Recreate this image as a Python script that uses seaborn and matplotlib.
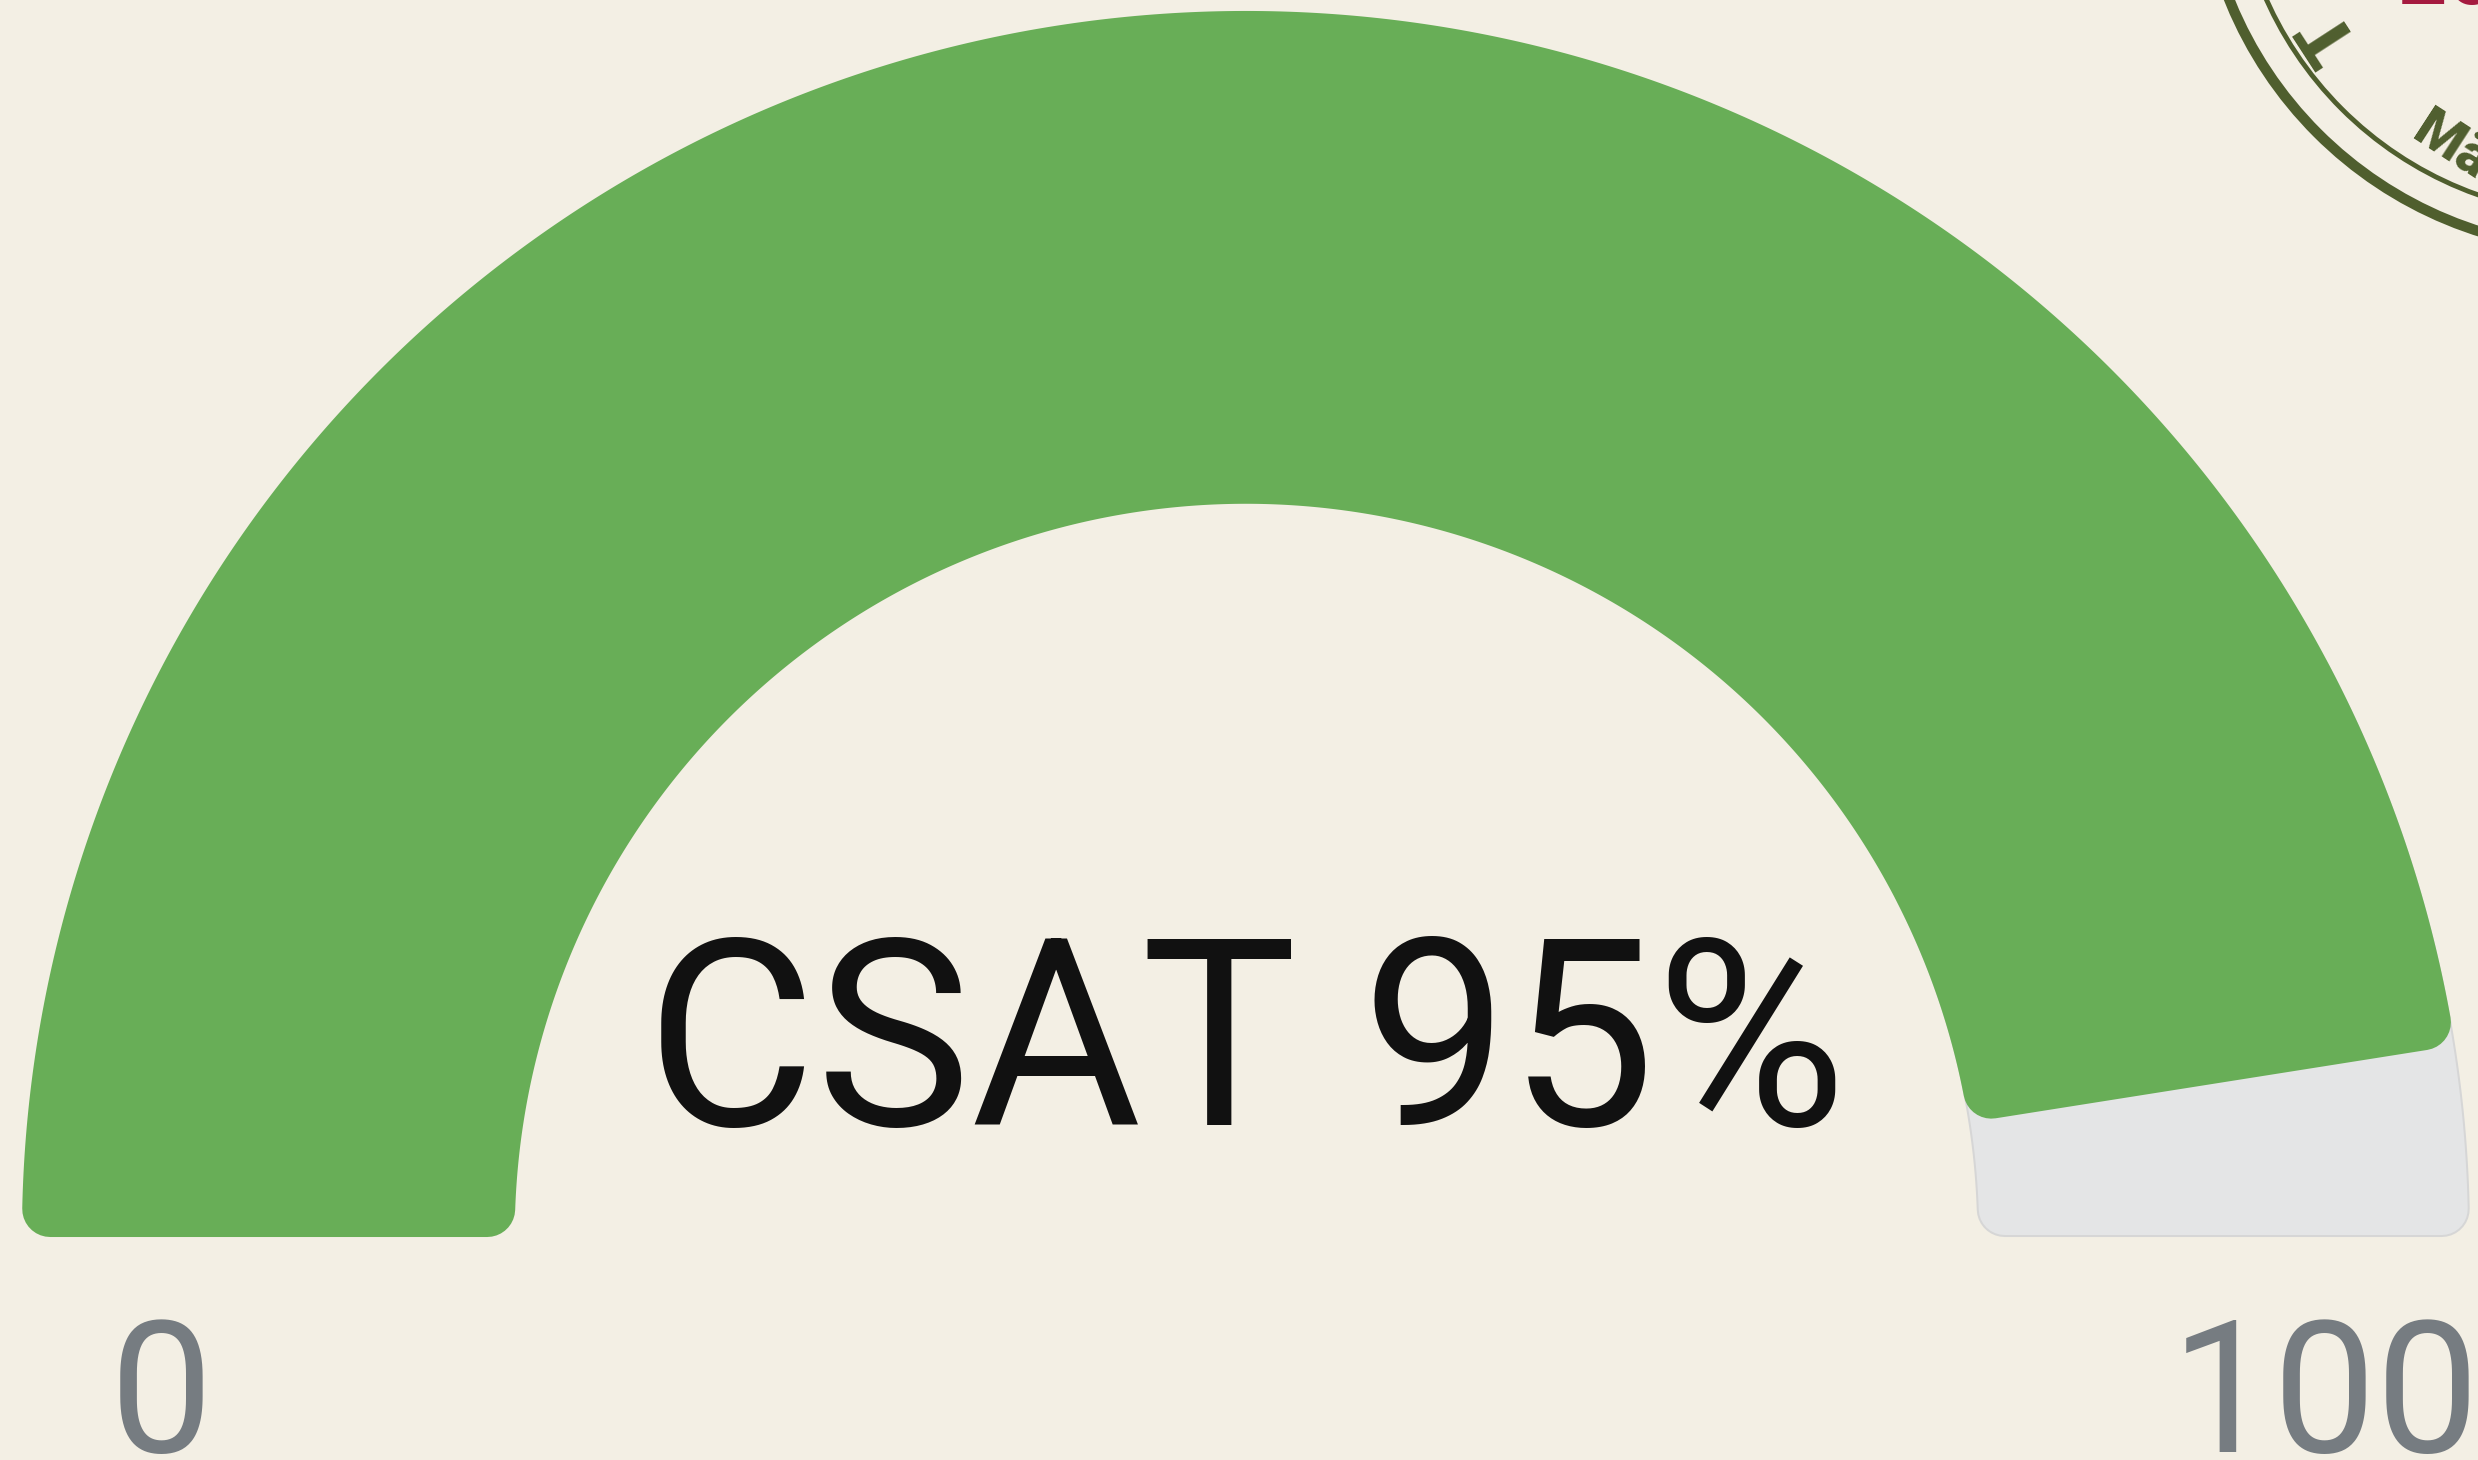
import numpy as np
import seaborn as sns
import matplotlib.pyplot as plt
from matplotlib.patches import Polygon, Circle

# gauge data
metric = "CSAT"
score = 95
scale_min, scale_max = 0, 100
tick_labels = ["0", "100"]

bg = "#f3efe4"
green = "#68ae57"
track = "#e4e5e6"
olive = "#4f5e2e"

sns.set_theme(style="white", rc={"figure.facecolor": bg, "axes.facecolor": bg})
plt.rcParams["font.family"] = ["Roboto", "DejaVu Sans"]

DPI = 100
fig = plt.figure(figsize=(24.78, 14.6), dpi=DPI)
ax = fig.add_axes([0, 0, 1, 1])
ax.set_xlim(-1.0196, 1.0082)
ax.set_ylim(-0.1841, 1.0106)
ax.axis("off")

PX = 1 / 1222          # one pixel in data units
r_in, r_out = 0.600, 1.0
s = 26 * PX            # corner radius


def band(t0, t1, color, extra=0, z=1):
    # annular sector t0..t1 (degrees) with rounded corners (stroke trick)
    a = lambda r: np.degrees(np.arcsin(s / r))
    ro, ri = r_out - s, r_in + s
    outer = np.radians(np.linspace(t0 + a(ro), t1 - a(ro), 400))
    inner = np.radians(np.linspace(t1 - a(ri), t0 + a(ri), 400))
    xy = np.concatenate([np.c_[ro * np.cos(outer), ro * np.sin(outer)],
                         np.c_[ri * np.cos(inner), ri * np.sin(inner)]])
    lw = (2 * s / PX + extra) * 72 / DPI
    ax.add_patch(Polygon(xy, closed=True, fc=color, ec=color, lw=lw,
                         joinstyle="round", zorder=z))


split = 180 * (1 - (score - scale_min) / (scale_max - scale_min))

band(0, split + 20, "#d6d6d6", extra=4, z=1)
band(0, split + 20, track, z=2)
band(split, 180, green, extra=4, z=3)

ax.text(0, 0.090, f"{metric} {score}%", ha="center", va="baseline",
        fontsize=188, color="#111111", zorder=5)
ax.text(-0.888, -0.1776, tick_labels[0], ha="center", va="baseline",
        fontsize=132, color="#767c81")
ax.text(1.010, -0.1776, tick_labels[1], ha="right", va="baseline",
        fontsize=132, color="#767c81")

# stamp in the corner
ax.add_patch(Circle((1.108, 1.133), 0.327, fill=False, ec=olive, lw=7.5))
ax.add_patch(Circle((1.108, 1.133), 0.299, fill=False, ec=olive, lw=3.5))
ax.text(0.9525, 0.898, "Mä", rotation=-33, rotation_mode="anchor",
        ha="left", va="baseline", fontsize=40, fontweight=900, color=olive)
ax.text(0.887, 0.982, "T", rotation=123, rotation_mode="anchor",
        ha="center", va="center", fontsize=52, fontweight=900, color=olive)
ax.text(0.9427, 1.0074, "20", ha="left", va="baseline",
        fontsize=62, fontweight="bold", color="#a51a3f")

fig.savefig("out.png", dpi=DPI, facecolor=bg)
